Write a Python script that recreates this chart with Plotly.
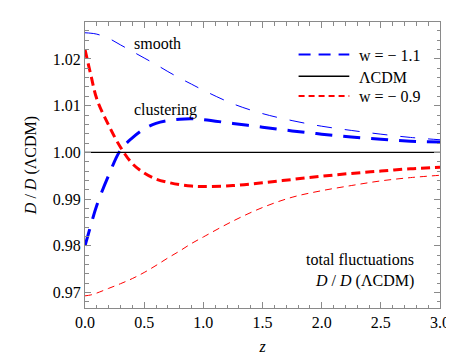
import plotly.graph_objects as go

z = [0, 0.05, 0.1, 0.2, 0.3, 0.4, 0.5, 0.6, 0.7, 0.8, 0.9, 1.0, 1.25, 1.5, 1.75, 2.0, 2.25, 2.5, 2.75, 3.0]

smooth_w11 = [1.0256, 1.0255, 1.0253, 1.0244, 1.0230, 1.0216, 1.0202, 1.0188, 1.0173, 1.0159, 1.0146, 1.0133,
              1.0104, 1.0083, 1.0068, 1.0056, 1.0047, 1.0039, 1.0032, 1.0027]
clust_w11 = [0.9800, 0.9845, 0.9887, 0.9951, 1.0005, 1.0031, 1.0050, 1.0062, 1.0068, 1.0071, 1.0072, 1.0070,
             1.0062, 1.0054, 1.0046, 1.0039, 1.0033, 1.0028, 1.0024, 1.0022]
clust_w09 = [1.0220, 1.0165, 1.0114, 1.0058, 1.0011, 0.9976, 0.9956, 0.9943, 0.9936, 0.9931, 0.9928, 0.9927,
             0.9929, 0.9935, 0.9942, 0.9949, 0.9955, 0.9960, 0.9965, 0.9968]
smooth_w09 = [0.9693, 0.9695, 0.9699, 0.9709, 0.9719, 0.9730, 0.9743, 0.9758, 0.9774, 0.9789, 0.9805, 0.9819,
              0.9853, 0.9882, 0.9904, 0.9918, 0.9929, 0.9939, 0.9946, 0.9951]
lcdm_z = [0, 3.0]
lcdm = [1.0, 1.0]

legend_labels = ["w = − 1.1", "ΛCDM", "w = − 0.9"]
ratio_label = "<i>D</i> / <i>D</i> (ΛCDM)"

BLUE = "#0000ff"
RED = "#ff0000"
FONT = "Liberation Serif"
GRAY = "#8a8a8a"

def txt():
    return dict(family=FONT, size=16, color="black")

fig = go.Figure()
fig.add_trace(go.Scatter(x=z, y=smooth_w11, mode="lines", line=dict(color=BLUE, width=1, dash="15px,13px", shape="spline"), showlegend=False))
fig.add_trace(go.Scatter(x=z, y=clust_w11, mode="lines", line=dict(color=BLUE, width=3, dash="17px,11px", shape="spline"), showlegend=False))
fig.add_trace(go.Scatter(x=lcdm_z, y=lcdm, mode="lines", line=dict(color="black", width=1.2), showlegend=False))
fig.add_trace(go.Scatter(x=z, y=clust_w09, mode="lines", line=dict(color=RED, width=3, dash="9px,5px", shape="spline"), showlegend=False))
fig.add_trace(go.Scatter(x=z, y=smooth_w09, mode="lines", line=dict(color=RED, width=1, dash="7px,5px", shape="spline"), showlegend=False))

W, H = 454, 356
ml, mr, mt, mb = 77, 13, 14, 52
pw, ph = W - ml - mr, H - mt - mb

def px(x):
    return (x - ml) / pw

def py(y):
    return 1 - (y - mt) / ph

# legend keys (decoration in paper coordinates)
leg_styles = [dict(color=BLUE, width=2, dash="12px,8px"), dict(color="black", width=1.5), dict(color=RED, width=2, dash="6px,4px")]
leg_y = [47, 69, 89]
shapes = []
annotations = []
for lab, st, yy in zip(legend_labels, leg_styles, leg_y):
    shapes.append(dict(type="line", xref="paper", yref="paper", x0=px(296), x1=px(348), y0=py(yy), y1=py(yy), line=st))
    annotations.append(dict(xref="paper", yref="paper", x=px(356), y=py(yy + 1), text=lab, showarrow=False,
                            xanchor="left", yanchor="middle", font=txt()))

annotations += [
    dict(x=0.40, y=1.0232, text="smooth", showarrow=False, xanchor="left", yanchor="middle", font=txt()),
    dict(x=0.40, y=1.0091, text="clustering", showarrow=False, xanchor="left", yanchor="middle", font=txt()),
    dict(x=2.80, y=0.97705, text="total fluctuations", showarrow=False, xanchor="right", yanchor="middle", font=txt()),
    dict(x=2.80, y=0.97242, text=ratio_label, showarrow=False, xanchor="right", yanchor="middle", font=txt()),
]

fig.update_layout(
    width=W, height=H,
    margin=dict(l=ml, r=mr, t=mt, b=mb),
    paper_bgcolor="white", plot_bgcolor="white",
    font=txt(),
    shapes=shapes, annotations=annotations,
    xaxis=dict(range=[0, 3], showgrid=False, zeroline=False, showline=True, linecolor=GRAY, linewidth=1,
               mirror="ticks", ticks="inside", ticklen=6, tickcolor=GRAY, tickwidth=1,
               tickmode="linear", dtick=0.5, tick0=0, tickformat=".1f", tickfont=txt(),
               minor=dict(dtick=0.1, tick0=0, ticks="inside", ticklen=3.5, tickcolor=GRAY),
               title=dict(text="<i>z</i>", font=txt(), standoff=10)),
    yaxis=dict(range=[0.9667, 1.0279], showgrid=False, zeroline=False, showline=True, linecolor=GRAY, linewidth=1,
               mirror="ticks", ticks="inside", ticklen=6, tickcolor=GRAY, tickwidth=1,
               tickmode="linear", dtick=0.01, tick0=0.97, tickformat=".2f", tickfont=txt(),
               minor=dict(dtick=0.002, tick0=0.97, ticks="inside", ticklen=3.5, tickcolor=GRAY),
               title=dict(text=ratio_label, font=txt(), standoff=12)),
)

fig.write_html("out.html")
